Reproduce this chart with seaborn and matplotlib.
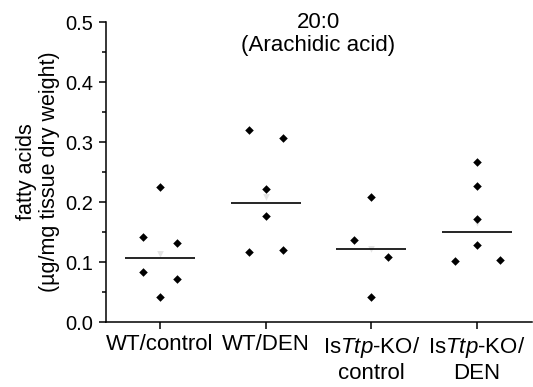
import numpy as np
import pandas as pd
import matplotlib
matplotlib.use("Agg")
import matplotlib.pyplot as plt
import matplotlib.transforms as mtransforms
from matplotlib.ticker import MultipleLocator
import seaborn as sns

# ---- data ----
groups = ["WT/control", "WT/DEN", "IsTtp-KO/control", "IsTtp-KO/DEN"]
tick_labels = ["WT/control", "WT/DEN",
               "Is$\\it{Ttp}$-KO/\ncontrol", "Is$\\it{Ttp}$-KO/\nDEN"]
wt_control = [0.2245, 0.141, 0.131, 0.083, 0.072, 0.042]
wt_den = [0.320, 0.307, 0.221, 0.177, 0.120, 0.116]
ko_control = [0.208, 0.137, 0.108, 0.042]
ko_den = [0.267, 0.226, 0.172, 0.128, 0.103, 0.102]
# horizontal scatter of the points within each column (category units)
wt_control_off = [0, -0.16, 0.16, -0.16, 0.16, 0]
wt_den_off = [-0.155, 0.16, 0, 0, 0.16, -0.155]
ko_control_off = [0, -0.16, 0.16, 0]
ko_den_off = [0, 0, 0, 0, 0.22, -0.21]

values = [wt_control, wt_den, ko_control, ko_den]
offsets = [wt_control_off, wt_den_off, ko_control_off, ko_den_off]

rows = []
for i, (g, vals, offs) in enumerate(zip(groups, values, offsets)):
    for v, o in zip(vals, offs):
        rows.append({"group": g, "value": v, "pos": i + o})
df = pd.DataFrame(rows)

# ---- style ----
sns.set_style("ticks")
plt.rcParams["font.family"] = ["Liberation Sans", "DejaVu Sans"]
plt.rcParams["mathtext.fontset"] = "custom"
plt.rcParams["mathtext.rm"] = "Liberation Sans"
plt.rcParams["mathtext.it"] = "Liberation Sans:italic"
plt.rcParams["text.color"] = "black"
plt.rcParams["axes.labelcolor"] = "black"
plt.rcParams["xtick.color"] = "black"
plt.rcParams["ytick.color"] = "black"
plt.rcParams["axes.edgecolor"] = "black"

fig = plt.figure(figsize=(5.33, 3.87), dpi=100)
ax = fig.add_axes([106 / 533, 1 - 322 / 387, (532 - 106) / 533, (322 - 22) / 387])

# median lines
sns.boxplot(data=df, x="group", y="value", order=groups, ax=ax,
            width=0.66, showbox=False, showcaps=False, showfliers=False,
            whiskerprops={"visible": False},
            medianprops={"color": "black", "linewidth": 1.2},
            boxprops={"visible": False})

# faint mean markers
sns.pointplot(data=df, x="group", y="value", order=groups, ax=ax,
              estimator="mean", errorbar=None, linestyle="none",
              marker="v", markersize=1.5, color="#e4e4e4")

# individual points
sns.scatterplot(data=df, x="pos", y="value", ax=ax, marker="D", s=19,
                color="black", edgecolor="black", linewidth=0, zorder=5)

ax.set_xlim(-0.511, 3.52)
ax.set_ylim(0, 0.5)
ax.set_xticks(range(len(groups)))
ax.set_xticklabels(tick_labels, fontsize=16)
ax.yaxis.set_major_locator(MultipleLocator(0.1))
ax.yaxis.set_minor_locator(MultipleLocator(0.05))
ax.set_yticks([0.0, 0.1, 0.2, 0.3, 0.4, 0.5])
ax.set_yticklabels(["0.0", "0.1", "0.2", "0.3", "0.4", "0.5"], fontsize=14.5)
ax.tick_params(axis="both", which="major", direction="out", length=5,
               width=1.1, color="black", labelcolor="black", pad=4)
ax.tick_params(axis="y", which="minor", direction="out", length=3,
               width=1.1, color="black")
ax.set_xlabel("")
ax.set_ylabel("fatty acids\n(µg/mg tissue dry weight)", fontsize=15.5,
              labelpad=4, linespacing=1.1, color="black")
for s in ["top", "right"]:
    ax.spines[s].set_visible(False)
for s in ["left", "bottom"]:
    ax.spines[s].set_linewidth(1.1)
    ax.spines[s].set_color("black")

trans = mtransforms.blended_transform_factory(ax.transData, fig.transFigure)
ax.text(1.5, 1 - 12 / 387, "20:0\n(Arachidic acid)", transform=trans,
        ha="center", va="top", fontsize=16, linespacing=1.1, color="black")

fig.savefig("out.png", dpi=100)
